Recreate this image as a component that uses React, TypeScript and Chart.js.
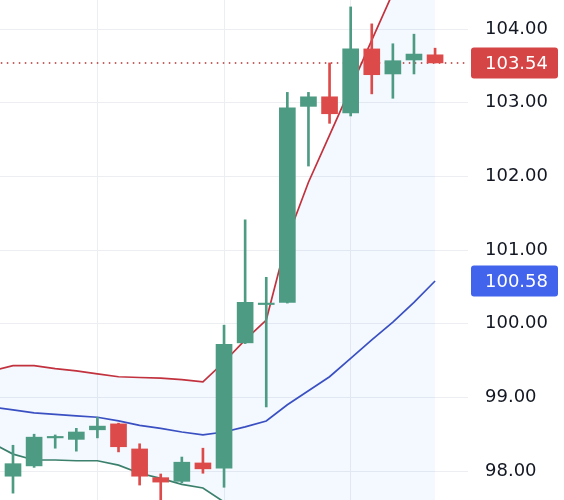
import React, { useEffect, useRef } from "react";
import { Chart, registerables } from "chart.js";

Chart.register(...registerables);

// Candles (x = index 0..20)
const opens = [97.93, 98.07, 98.45, 98.43, 98.56, 98.64, 98.30, 97.91, 97.86, 98.11, 98.04, 99.74, 100.26, 100.29, 102.95, 103.08, 102.86, 103.73, 103.39, 103.58, 103.65];
const highs = [98.35, 98.50, 98.49, 98.58, 98.73, 98.65, 98.37, 97.96, 98.19, 98.31, 99.98, 101.41, 100.63, 103.14, 103.14, 103.54, 104.30, 104.07, 103.80, 103.93, 103.74];
const lows = [97.70, 98.05, 98.31, 98.27, 98.45, 98.26, 97.81, 97.54, 97.84, 97.97, 97.78, 99.73, 98.87, 100.28, 102.14, 102.72, 102.82, 103.12, 103.06, 103.39, 103.54];
const closes = [98.10, 98.46, 98.47, 98.53, 98.61, 98.33, 97.93, 97.85, 98.12, 98.03, 99.72, 100.29, 100.28, 102.93, 103.08, 102.85, 103.73, 103.38, 103.57, 103.66, 103.54];

// Bollinger bands (x = -1..20)
const bandStart = -1;
const upperBand = [99.36, 99.43, 99.43, 99.39, 99.36, 99.32, 99.28, 99.27, 99.26, 99.24, 99.21, 99.48, 99.78, 100.05, 101.16, 101.92, 102.56, 103.20, 103.85, 104.49, 105.07, 105.62];
const middleBand = [98.87, 98.83, 98.79, 98.77, 98.75, 98.73, 98.68, 98.62, 98.58, 98.53, 98.49, 98.53, 98.60, 98.68, 98.90, 99.09, 99.28, 99.53, 99.78, 100.02, 100.29, 100.58];
const lowerBand = [98.38, 98.23, 98.15, 98.15, 98.14, 98.14, 98.08, 97.97, 97.90, 97.82, 97.77, 97.58, 97.42, 97.31, 96.64, 96.26, 96.00, 95.86, 95.71, 95.55, 95.51, 95.54];

const yTicks = [98, 99, 100, 101, 102, 103, 104];
const xGridAt = [4, 10, 16];

const UP = "#4e9b83";
const DOWN = "#dc4a4a";
const FONT = "'DejaVu Sans', sans-serif";

export default function App() {
  const ref = useRef<HTMLCanvasElement | null>(null);

  useEffect(() => {
    if (!ref.current) return;
    const colors = closes.map((c, i) => (c >= opens[i] ? UP : DOWN));
    const lastClose = closes[closes.length - 1];
    const lastMid = middleBand[middleBand.length - 1];

    const priceLabels = {
      id: "priceLabels",
      afterDraw(chart: any) {
        const ctx = chart.ctx;
        const ys = chart.scales.y;
        const items = [
          { v: lastClose, c: "#d64545" },
          { v: lastMid, c: "#4263eb" },
        ];
        ctx.save();
        ctx.font = `18px ${FONT}`;
        ctx.textBaseline = "middle";
        ctx.textAlign = "left";
        for (const it of items) {
          const y = ys.getPixelForValue(it.v);
          ctx.fillStyle = it.c;
          ctx.beginPath();
          (ctx as any).roundRect(471, y - 15.5, 87, 31, 3);
          ctx.fill();
          ctx.fillStyle = "#ffffff";
          ctx.fillText(it.v.toFixed(2), 485, y + 1);
        }
        ctx.restore();
      },
    };

    const band = (arr: number[]) => arr.map((v, i) => ({ x: i + bandStart, y: v }));

    const chart = new Chart(ref.current, {
      type: "bar",
      data: {
        datasets: [
          {
            type: "bar",
            label: "bodies",
            data: opens.map((o, i) => ({ x: i, y: [o, closes[i]] })) as any,
            backgroundColor: colors,
            barThickness: 16,
            grouped: false,
            order: 0,
          } as any,
          {
            type: "bar",
            label: "wicks",
            data: lows.map((l, i) => ({ x: i, y: [l, highs[i]] })) as any,
            backgroundColor: colors,
            barThickness: 2,
            grouped: false,
            order: 1,
          } as any,
          {
            type: "line",
            label: "last",
            data: [
              { x: -2, y: lastClose },
              { x: 23, y: lastClose },
            ],
            borderColor: "#b03030",
            borderWidth: 1.5,
            borderDash: [1.5, 4.5],
            pointRadius: 0,
            order: 2,
          } as any,
          {
            type: "line",
            label: "upper",
            data: band(upperBand),
            borderColor: "#c2323e",
            borderWidth: 1.7,
            pointRadius: 0,
            fill: "+2",
            backgroundColor: "rgba(33,150,243,0.055)",
            order: 3,
          } as any,
          {
            type: "line",
            label: "middle",
            data: band(middleBand),
            borderColor: "#3b4cc0",
            borderWidth: 1.7,
            pointRadius: 0,
            fill: false,
            order: 4,
          } as any,
          {
            type: "line",
            label: "lower",
            data: band(lowerBand),
            borderColor: "#3d8069",
            borderWidth: 1.7,
            pointRadius: 0,
            fill: false,
            order: 5,
          } as any,
        ],
      },
      options: {
        responsive: false,
        animation: false,
        layout: { padding: 0 },
        plugins: { legend: { display: false }, tooltip: { enabled: false } },
        scales: {
          x: {
            type: "linear",
            min: -0.616,
            max: 21.56,
            offset: false,
            border: { display: false },
            grid: { color: "#eceef2", drawTicks: false, lineWidth: 1, offset: false },
            ticks: { display: false },
            afterBuildTicks: (s: any) => {
              s.ticks = xGridAt.map((v) => ({ value: v }));
            },
            afterFit: (s: any) => {
              s.height = 0;
              s.paddingLeft = 0;
              s.paddingRight = 0;
            },
          },
          y: {
            type: "linear",
            position: "right",
            min: 97.607,
            max: 104.394,
            border: { display: false },
            grid: { color: "#eceef2", drawTicks: false, lineWidth: 1 },
            afterBuildTicks: (s: any) => {
              s.ticks = yTicks.map((v) => ({ value: v }));
            },
            afterFit: (s: any) => {
              s.width = 96;
              s.paddingTop = 0;
              s.paddingBottom = 0;
            },
            ticks: {
              padding: 17,
              color: "#131722",
              font: { family: FONT, size: 18 },
              callback: (v: any) => Number(v).toFixed(2),
            },
          },
        },
      } as any,
      plugins: [priceLabels],
    });
    return () => chart.destroy();
  }, []);

  return (
    <div style={{ position: "absolute", left: 0, top: 0, width: 564, height: 500, background: "#fff" }}>
      <canvas ref={ref} width={564} height={500} style={{ display: "block" }} />
    </div>
  );
}
